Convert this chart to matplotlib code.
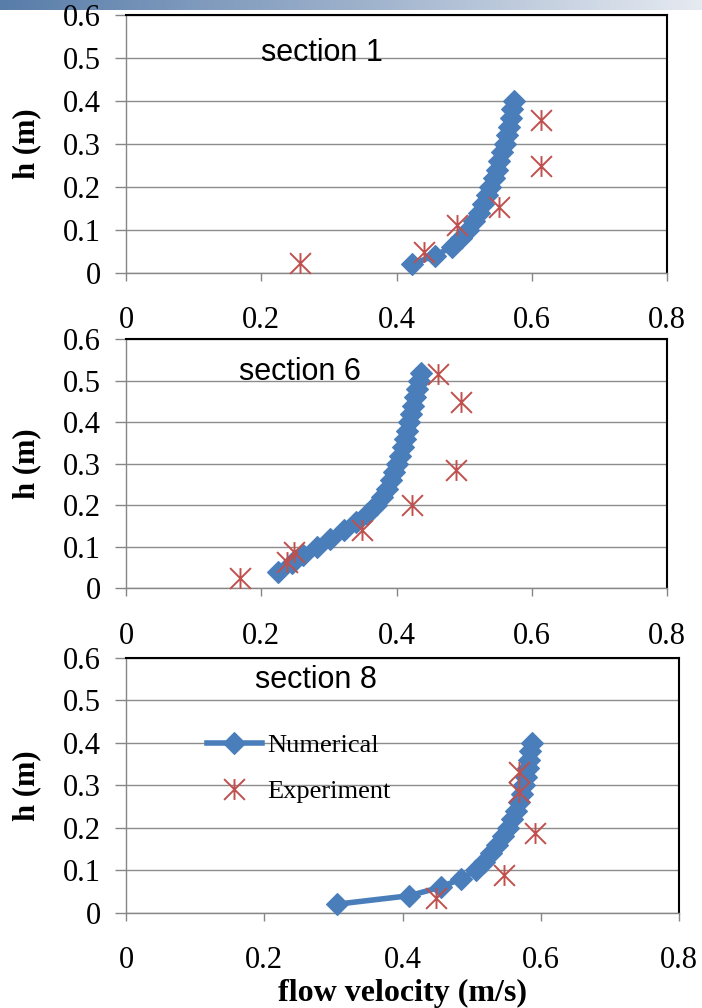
import numpy as np
import matplotlib
matplotlib.use("Agg")
import matplotlib.pyplot as plt
from matplotlib.path import Path
from matplotlib.colors import LinearSegmentedColormap

# ---------------- data ----------------
x_ticks = [0, 0.2, 0.4, 0.6, 0.8]
x_tick_labels = ["0", "0.2", "0.4", "0.6", "0.8"]
y_ticks = [0, 0.1, 0.2, 0.3, 0.4, 0.5, 0.6]
y_tick_labels = ["0", "0.1", "0.2", "0.3", "0.4", "0.5", "0.6"]

section_titles = ["section 1", "section 6", "section 8"]

# section 1
num1_h = [0.02, 0.04, 0.06, 0.08, 0.10, 0.12, 0.14, 0.16, 0.18, 0.20,
          0.22, 0.24, 0.26, 0.28, 0.30, 0.32, 0.34, 0.36, 0.38, 0.40]
num1_v = [0.423, 0.457, 0.482, 0.495, 0.506, 0.515, 0.522, 0.528, 0.534, 0.539,
          0.544, 0.548, 0.552, 0.556, 0.560, 0.563, 0.566, 0.569, 0.571, 0.574]
exp1_v = [0.257, 0.441, 0.489, 0.552, 0.614, 0.614]
exp1_h = [0.022, 0.049, 0.111, 0.154, 0.248, 0.356]

# section 6
num6_h = [0.04, 0.06, 0.08, 0.10, 0.12, 0.14, 0.16, 0.18, 0.20, 0.22, 0.24, 0.26,
          0.28, 0.30, 0.32, 0.34, 0.36, 0.38, 0.40, 0.42, 0.44, 0.46, 0.48, 0.50, 0.52]
num6_v = [0.225, 0.245, 0.262, 0.283, 0.302, 0.322, 0.340, 0.356, 0.369, 0.379, 0.386, 0.392,
          0.397, 0.401, 0.405, 0.409, 0.412, 0.415, 0.418, 0.421, 0.424, 0.427, 0.430, 0.433, 0.436]
exp6_v = [0.169, 0.238, 0.249, 0.349, 0.423, 0.488, 0.495, 0.462]
exp6_h = [0.024, 0.064, 0.088, 0.140, 0.200, 0.286, 0.449, 0.517]

# section 8
num8_h = [0.02, 0.04, 0.06, 0.08, 0.10, 0.12, 0.14, 0.16, 0.18, 0.20,
          0.22, 0.24, 0.26, 0.28, 0.30, 0.32, 0.34, 0.36, 0.38, 0.40]
num8_v = [0.305, 0.410, 0.455, 0.485, 0.506, 0.518, 0.528, 0.537, 0.546, 0.553,
          0.559, 0.564, 0.569, 0.573, 0.576, 0.579, 0.581, 0.583, 0.585, 0.588]
exp8_v = [0.448, 0.547, 0.592, 0.568, 0.568]
exp8_h = [0.035, 0.088, 0.187, 0.285, 0.330]

series = [
    (num1_v, num1_h, exp1_v, exp1_h),
    (num6_v, num6_h, exp6_v, exp6_h),
    (num8_v, num8_h, exp8_v, exp8_h),
]

# ---------------- style ----------------
BLUE = "#4A7EBB"
RED = "#C0504D"
GRID = "#8C8C8C"
AXIS = "#868686"
SERIF = ["Liberation Serif", "DejaVu Serif"]
SANS = ["Liberation Sans", "DejaVu Sans"]

star = Path([(0, -1), (0, 1), (-1, -1), (1, 1), (-1, 1), (1, -1)],
            [Path.MOVETO, Path.LINETO, Path.MOVETO, Path.LINETO, Path.MOVETO, Path.LINETO])

W, H = 702, 1008
fig = plt.figure(figsize=(W / 100, H / 100), dpi=100)
fig.patch.set_facecolor("white")

# top gradient bar
bar_ax = fig.add_axes([0, 1 - 10 / H, 1, 10 / H], zorder=0)
cmap = LinearSegmentedColormap.from_list("g", ["#587DA9", "#9CB0CB", "#E6EAF1"])
bar_ax.imshow(np.linspace(0, 1, 256)[None, :], aspect="auto", cmap=cmap,
              extent=[0, 1, 0, 1])
bar_ax.axis("off")

# axes rectangles (pixels: left, top, right, bottom)
rects = [(126, 15, 667, 272.7), (126, 339.4, 667, 588.3), (126, 657.7, 679, 912.7)]
title_pos = [(0.362, 0.853), (0.322, 0.87), (0.344, 0.913)]

axes = []
for i, (l, t, r, b) in enumerate(rects):
    ax = fig.add_axes([l / W, 1 - b / H, (r - l) / W, (b - t) / H], zorder=2)
    ax.patch.set_alpha(0)
    axes.append(ax)
    nv, nh, ev, eh = series[i]
    ln, = ax.plot(nv, nh, color=BLUE, lw=4.0, marker="D", markersize=11.5,
                  markerfacecolor=BLUE, markeredgecolor=BLUE, markeredgewidth=0.8,
                  zorder=3, label="Numerical", clip_on=False)
    st, = ax.plot(ev, eh, linestyle="none", marker=star, markersize=15,
                  markeredgecolor=RED, markeredgewidth=1.4, zorder=4,
                  label="Experiment", clip_on=False)
    ax.set_xlim(0, 0.8)
    ax.set_ylim(0, 0.6)
    ax.set_xticks(x_ticks)
    ax.set_xticklabels(x_tick_labels)
    ax.set_yticks(y_ticks)
    ax.set_yticklabels(y_tick_labels)
    for lab in ax.get_xticklabels() + ax.get_yticklabels():
        lab.set_fontfamily(SERIF)
        lab.set_fontsize(22)
    ax.tick_params(axis="x", direction="out", length=6, width=1, color=AXIS, pad=18)
    ax.tick_params(axis="y", direction="out", length=8, width=1, color=AXIS, pad=10)
    ax.grid(axis="y", color=GRID, lw=1.0)
    ax.grid(axis="x", visible=False)
    ax.set_axisbelow(True)
    for s in ("left", "bottom"):
        ax.spines[s].set_color(AXIS)
        ax.spines[s].set_linewidth(1.0)
        ax.spines[s].set_zorder(2.5)
    for s in ("top", "right"):
        ax.spines[s].set_color("black")
        ax.spines[s].set_linewidth(1.5)
    ax.set_ylabel("h (m)", fontfamily=SERIF, fontweight="bold", fontsize=22, va="center")
    ax.yaxis.set_label_coords((27 - l) / (r - l), 0.5)
    tx, ty = title_pos[i]
    ax.text(tx, ty, section_titles[i], transform=ax.transAxes, ha="center", va="center",
            fontfamily=SANS, fontsize=22, color="black")
    if i == 2:
        ax.set_xlabel("flow velocity (m/s)", fontfamily=SERIF, fontweight="bold",
                      fontsize=23, va="center")
        ax.xaxis.set_label_coords((403 - l) / (r - l), (b - 993) / (b - t))
        leg = ax.legend(handles=[ln, st], loc="upper left",
                        bbox_to_anchor=((206.7 - l) / (r - l), (b - 734) / (b - t)),
                        frameon=False, borderpad=0, borderaxespad=0,
                        handlelength=2.1, handletextpad=0.2, labelspacing=0.85,
                        prop={"family": SERIF, "size": 19})

fig.savefig("out.png", dpi=100, facecolor="white")
